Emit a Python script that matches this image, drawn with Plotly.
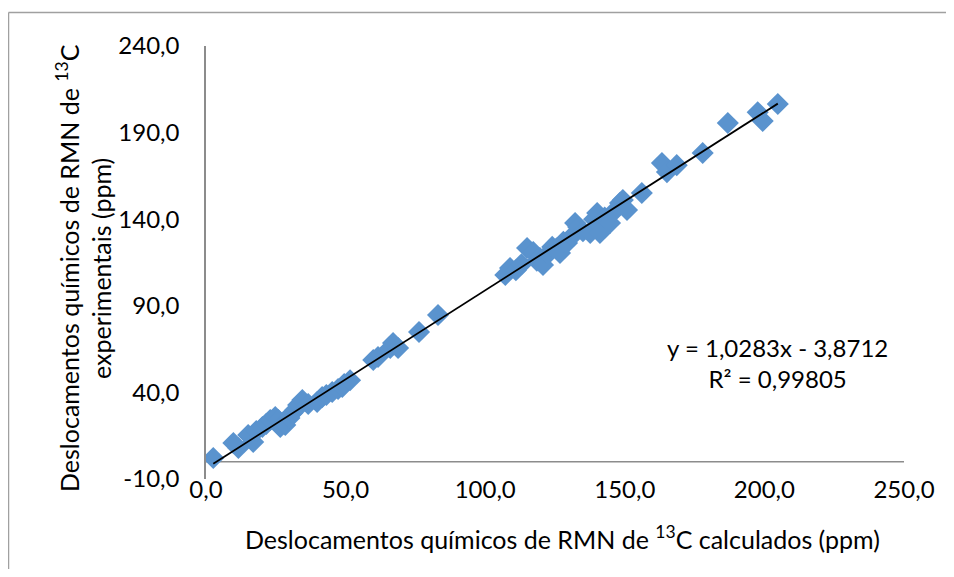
import plotly.graph_objects as go

# Calculated (x) vs experimental (y) 13C chemical shifts, ppm
calc_ppm = [2.6, 9.8, 11.6, 15.1, 16.9, 18.0, 20.2, 21.6, 23.0, 24.8, 25.9, 26.6,
            28.4, 29.9, 30.9, 32.0, 33.0, 34.5, 36.6, 39.8, 41.6, 43.1, 45.2, 47.3,
            48.8, 49.5, 51.6,
            59.9, 61.6, 66.0, 67.0, 68.8, 76.3, 83.1,
            107.2, 108.9, 111.0, 113.0, 115.0, 117.2, 118.5, 119.6, 120.7, 122.5,
            124.0, 125.5, 126.8, 128.0, 129.3, 131.0, 132.2, 133.3, 135.0, 137.6,
            139.0, 140.1, 141.1, 142.8, 144.7, 146.5, 148.3, 149.3, 150.8, 156.1,
            163.3, 165.1, 168.6, 177.9, 186.9, 197.6, 199.4, 204.8]
exp_ppm = [2.1, 10.8, 7.9, 15.4, 11.4, 17.7, 20.0, 21.8, 24.1, 25.8, 24.1, 20.0,
           21.2, 25.2, 28.1, 29.8, 32.7, 35.6, 33.3, 34.5, 37.3, 38.5, 40.2, 42.0,
           43.1, 44.8, 47.0,
           58.7, 60.4, 65.6, 68.5, 65.6, 74.9, 84.7,
           107.8, 111.8, 110.5, 114.0, 123.4, 121.1, 116.0, 117.6, 113.6, 120.0,
           124.0, 123.0, 120.5, 127.0, 126.3, 130.0, 137.8, 135.5, 133.0, 132.0,
           140.0, 143.6, 132.0, 141.0, 137.8, 145.0, 149.4, 151.1, 145.3, 155.1,
           172.4, 167.2, 171.2, 178.2, 195.5, 201.7, 196.7, 206.5]

slope = 1.0283
intercept = -3.8712
eq_text = "y = 1,0283x - 3,8712"
r2_text = "R² = 0,99805"

x_tickvals = [0, 50, 100, 150, 200, 250]
x_ticktext = ["0,0", "50,0", "100,0", "150,0", "200,0", "250,0"]
y_tickvals = [-10, 40, 90, 140, 190, 240]
y_ticktext = ["-10,0", "40,0", "90,0", "140,0", "190,0", "240,0"]

x_title = "Deslocamentos químicos de RMN de <sup>13</sup>C calculados (ppm)"
y_title = "Deslocamentos químicos de RMN de <sup>13</sup>C<br>experimentais (ppm)"

FONT = "Lato"
OFF = 8  # page body margin
W, H = 954 - 2 * OFF, 577 - 2 * OFF
L, T = 206 - OFF, 46 - OFF
R = W - (904 - OFF)
B = H - (479 - OFF)
pw, ph = W - L - R, H - T - B


def px(x):
    return (x - OFF - L) / pw


def py(y):
    return 1 - (y - OFF - T) / ph


xmin, xmax = min(calc_ppm), max(calc_ppm)

fig = go.Figure()
fig.add_trace(go.Scatter(
    x=calc_ppm, y=exp_ppm, mode="markers",
    marker=dict(symbol="diamond", size=17, color="#5A93CE", line=dict(width=0)),
    showlegend=False, hoverinfo="x+y"))
fig.add_trace(go.Scatter(
    x=[xmin, xmax], y=[slope * xmin + intercept, slope * xmax + intercept],
    mode="lines", line=dict(color="black", width=1.8),
    showlegend=False, hoverinfo="skip"))

border = dict(color="#A0A0A0", width=1.5)
fig.update_layout(
    width=W, height=H,
    margin=dict(l=L, r=R, t=T, b=B),
    paper_bgcolor="white", plot_bgcolor="white",
    font=dict(family=FONT, size=24, color="black"),
    xaxis=dict(range=[0, 250], tickvals=x_tickvals, ticktext=x_ticktext,
               showgrid=False, zeroline=False, showline=False, ticks="",
               ticklabelstandoff=-6, tickfont=dict(size=24)),
    yaxis=dict(range=[-10, 240], tickvals=y_tickvals, ticktext=y_ticktext,
               showgrid=False, zeroline=False, showline=True,
               linecolor="#8C8C8C", linewidth=1.5, ticks="",
               ticklabelstandoff=20, tickfont=dict(size=24)),
    shapes=[
        dict(type="line", xref="x", yref="y", x0=0, x1=250, y0=0, y1=0,
             line=dict(color="#8C8C8C", width=1.5), layer="below"),
        dict(type="line", xref="paper", yref="paper",
             x0=px(8.5), x1=px(960), y0=py(12.5), y1=py(12.5), line=border),
        dict(type="line", xref="paper", yref="paper",
             x0=px(8.5), x1=px(8.5), y0=py(12.5), y1=py(600), line=border),
    ],
    annotations=[
        dict(text=x_title, xref="paper", yref="paper", x=px(562), y=py(537),
             showarrow=False, xanchor="center", yanchor="middle",
             font=dict(family=FONT, size=25)),
        dict(text=y_title, xref="paper", yref="paper", x=px(83), y=py(268),
             showarrow=False, xanchor="center", yanchor="middle", textangle=-90,
             font=dict(family=FONT, size=25)),
        dict(text=eq_text + "<br>" + r2_text, xref="paper", yref="paper",
             x=px(777), y=py(363), showarrow=False, xanchor="center",
             yanchor="middle", align="center",
             font=dict(family=FONT, size=24)),
    ],
)

fig.write_html("out.html")
